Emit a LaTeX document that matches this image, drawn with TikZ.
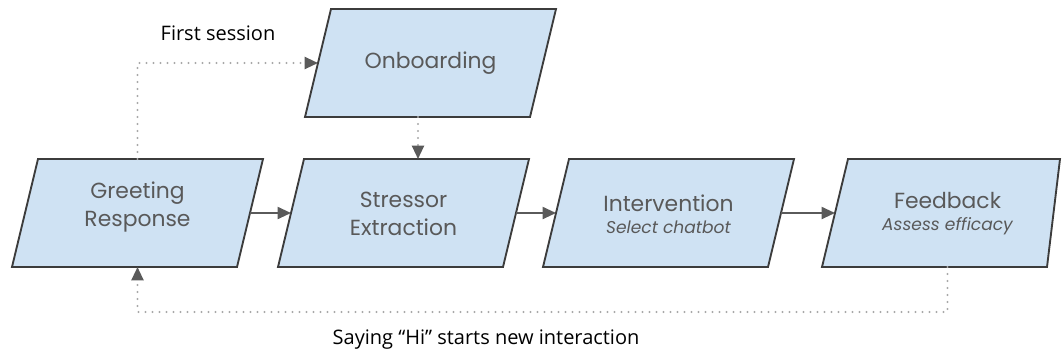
\documentclass[tikz,border=0pt]{standalone}
\usepackage{fontspec}
\setmainfont{Poppins}
\newfontfamily\labelfont{Open Sans}
\usetikzlibrary{arrows.meta,calc,backgrounds}
\definecolor{boxfill}{HTML}{CFE2F3}
\definecolor{boxline}{HTML}{3C3C3C}
\definecolor{boxtextc}{HTML}{595959}
\definecolor{arrowc}{HTML}{5A5A5A}
\definecolor{dotc}{HTML}{A8A8A8}
\tikzset{
  boxnode/.style={shape=rectangle, minimum width=168.75pt, minimum height=81pt,
    inner sep=0pt, outer sep=0pt},
  boxtext/.style={inner sep=0pt, align=center, text=boxtextc,
    font=\fontsize{16.4}{20.5}\selectfont},
  pgram/.style={fill=boxfill, draw=boxline, line width=1.4pt, line join=miter},
  flowarrow/.style={draw=arrowc, line width=1.4pt,
    -{Triangle[length=10pt,width=9pt,color=arrowc]}},
  dotarrow/.style={draw=dotc, line width=1.6pt, line cap=round,
    dash pattern=on 0pt off 5.25pt,
    -{Triangle[length=10pt,width=9pt,color=arrowc,line cap=butt]}},
  labeltext/.style={font=\labelfont\fontsize{15}{18}\selectfont, text=black, inner sep=0pt}
}
\newcommand\subline[1]{\\[-4pt]{\fontsize{12.8}{15}\selectfont\itshape #1}}
\begin{document}
\begin{tikzpicture}[x=0.75pt,y=-0.75pt]
\useasboundingbox (0,0) rectangle (1062,355);
% boxes (geometry)
\node[boxnode] (g) at (137.5,213) {};
\node[boxnode] (s) at (403.5,213) {};
\node[boxnode] (i) at (668.5,213) {};
\node[boxnode] (f) at (947.5,213) {};
\node[boxnode] (o) at (430.5,63) {};
\begin{scope}[on background layer]
  \foreach \n in {g,s,i,o}{
    \path[pgram] ([xshift=-9.75pt]\n.south west) -- ([xshift=9.75pt]\n.north west)
      -- ([xshift=9.75pt]\n.north east) -- ([xshift=-9.75pt]\n.south east) -- cycle;
  }
  \path[pgram] ([xshift=-9.75pt]f.south west) -- ([xshift=9.75pt]f.north west)
      -- (f.north east) -- ([xshift=-9.75pt]f.south east) -- cycle;
\end{scope}
% box texts
\node[boxtext] (gt) at ($(g.center)+(0,-6)$) {Greeting\\Response};
\node[boxtext] (st) at ($(s.center)+(0,1)$) {Stressor\\Extraction};
\node[boxtext] (it) at ($(i.center)+(0,1)$) {Intervention\subline{Select chatbot}};
\node[boxtext] (ft) at ($(f.center)+(0,1)$) {Feedback\subline{Assess efficacy}};
\node[boxtext] (ot) at (o.center) {Onboarding};
% labels
\node[labeltext] (l1) at (218,33) {First session};
\node[labeltext] (l2) at (486,340) {Saying “Hi” starts new interaction};
% solid arrows
\draw[flowarrow] (g.east) -- (s.west);
\draw[flowarrow] (s.east) -- (i.west);
\draw[flowarrow] (i.east) -- (f.west);
% dotted connectors
\coordinate (ox) at (418,0);
\coordinate (top) at (0,63);
\coordinate (bot) at (0,312);
\draw[dotarrow] (g.north) -- (g.north |- top) -- (o.west);
\draw[dotarrow] (o.south -| ox) -- (s.north -| ox);
\draw[dotarrow] (f.south) -- (f.south |- bot) -- (g.south |- bot) -- (g.south);
\end{tikzpicture}
\end{document}
